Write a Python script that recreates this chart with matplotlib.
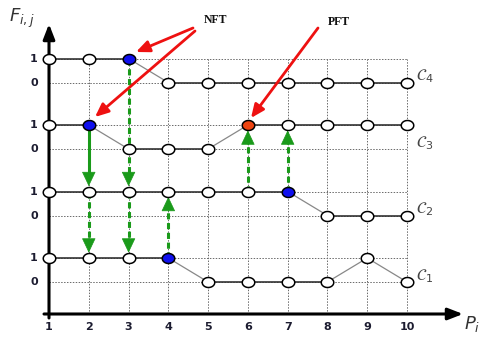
import matplotlib
matplotlib.use("Agg")
import matplotlib.pyplot as plt
import numpy as np
from matplotlib.path import Path

# ---- data ----
positions = [1, 2, 3, 4, 5, 6, 7, 8, 9, 10]
x_tick_labels = ["1", "2", "3", "4", "5", "6", "7", "8", "9", "10"]
chain_names = ["$\\mathcal{C}_1$", "$\\mathcal{C}_2$", "$\\mathcal{C}_3$", "$\\mathcal{C}_4$"]
c1 = [1, 1, 1, 1, 0, 0, 0, 0, 1, 0]
c2 = [1, 1, 1, 1, 1, 1, 1, 0, 0, 0]
c3 = [1, 1, 0, 0, 0, 1, 1, 1, 1, 1]
c4 = [1, 1, 1, 0, 0, 0, 0, 0, 0, 0]
chains = [c1, c2, c3, c4]
# highlighted nodes: (chain index, position)
nft_nodes = [(3, 3), (2, 2), (1, 7), (0, 4)]
pft_nodes = [(2, 6)]
# transfers: (position, from chain, to chain, solid?)
transfers = [(2, 2, 1, True), (2, 1, 0, False),
             (3, 3, 1, False), (3, 1, 0, False),
             (4, 0, 1, False), (6, 1, 2, False), (7, 1, 2, False)]

OFF = 2.77  # vertical offset between chains

def lvl(ci, v):
    return ci * OFF + v

W, H = 479, 340
fig = plt.figure(figsize=(W / 100, H / 100), dpi=100)
ax = fig.add_axes([0, 0, 1, 1])
sx = 39.78
sy = 24.0
ax.set_xlim(1 - 49 / sx, 1 + (W - 49) / sx)
ax.set_ylim((282 - H) / sy, 282 / sy)
ax.axis("off")

def px(xp, yp):
    return 1 + (xp - 49) / sx, (282 - yp) / sy

y_axis_bottom = px(0, 318)[1]
x_axis_y = px(0, 314)[1]
top = lvl(3, 1)

# grid
for ci in range(4):
    for v in (0, 1):
        ax.plot([1, 10], [lvl(ci, v)] * 2, ls=(0, (1.5, 1.5)), color="#6a6a6a", lw=0.7, zorder=1)
for p in positions[1:]:
    ax.plot([p, p], [x_axis_y, top], ls=(0, (1.5, 1.5)), color="#6a6a6a", lw=0.7, zorder=1)

# axes arrows
x0, _ = px(44, 0)
ax.annotate("", xy=px(463, 314), xytext=(x0, x_axis_y),
            arrowprops=dict(arrowstyle="-|>,head_length=0.9,head_width=0.35", lw=2.2, color="black",
                            shrinkA=0, shrinkB=0), zorder=3)
ax.annotate("", xy=px(49, 24), xytext=(1, y_axis_bottom),
            arrowprops=dict(arrowstyle="-|>,head_length=0.9,head_width=0.35", lw=2.2, color="black",
                            shrinkA=0, shrinkB=0), zorder=3)

# ellipse marker
t = np.linspace(0, 2 * np.pi, 60)
ell = Path(np.column_stack([np.cos(t), 0.8 * np.sin(t)]), closed=True)

# chain lines
for ci, vals in enumerate(chains):
    ys = [lvl(ci, v) for v in vals]
    for i in range(len(positions) - 1):
        if vals[i] == vals[i + 1]:
            ax.plot(positions[i:i + 2], ys[i:i + 2], color="#333333", lw=1.2, zorder=2)
        else:
            ax.plot(positions[i:i + 2], ys[i:i + 2], color="#888888", lw=0.9, zorder=2)

# green transfers
green = "#1a9a1a"
for p, a, b, solid in transfers:
    ya = lvl(a, 1)
    yb = lvl(b, 1)
    d = 1 if yb > ya else -1
    tip = yb - d * 0.22
    headlen = 0.6
    ax.plot([p, p], [ya, tip - d * headlen * 0.6], color=green, lw=2.2,
            ls="-" if solid else (0, (2.0, 1.2)), zorder=4)
    ax.annotate("", xy=(p, tip), xytext=(p, tip - d * headlen),
                arrowprops=dict(arrowstyle="-|>,head_length=0.95,head_width=0.45", lw=0.5,
                                color=green, shrinkA=0, shrinkB=0), zorder=4)

# nodes
for ci, vals in enumerate(chains):
    for p, v in zip(positions, vals):
        fc = "white"
        if (ci, p) in nft_nodes:
            fc = "#1010ee"
        if (ci, p) in pft_nodes:
            fc = "#ee4411"
        ax.plot(p, lvl(ci, v), marker=ell, ms=9, mfc=fc, mec="black", mew=1.1, zorder=5)

# tick labels
tc = "#1c1c30"
for p, lab in zip(positions, x_tick_labels):
    ax.text(p, px(0, 327)[1], lab, ha="center", va="center", fontsize=8, fontweight="bold", color=tc)
for ci in range(4):
    ax.text(px(34, 0)[0], lvl(ci, 1), "1", ha="center", va="center", fontsize=8, fontweight="bold", color=tc)
    ax.text(px(34, 0)[0], lvl(ci, 0), "0", ha="center", va="center", fontsize=8, fontweight="bold", color=tc)

# chain names
for ci, name in enumerate(chain_names):
    ax.text(px(416, 0)[0], lvl(ci, 0.5) - 0.25, name, ha="left", va="center", fontsize=11.5, color="#444444")

# axis labels
ax.text(*px(9, 18), "$F_{i,j}$", ha="left", va="center", fontsize=13, color="#333333")
ax.text(*px(464, 324), "$P_i$", ha="left", va="center", fontsize=13, color="#333333")

# annotations
red = "#ee1111"
ax.text(*px(215, 20), "NFT", ha="center", va="center", fontsize=8.5, fontweight="bold",
        family="Liberation Serif", color="#111111")
ax.text(*px(339, 22), "PFT", ha="center", va="center", fontsize=8.5, fontweight="bold",
        family="Liberation Serif", color="#111111")
for start, end in [((193, 28), (136, 52)), ((195, 31), (95, 117)), ((318, 28), (251, 118))]:
    ax.annotate("", xy=px(*end), xytext=px(*start),
                arrowprops=dict(arrowstyle="-|>,head_length=0.8,head_width=0.35", lw=2.0, color=red,
                                shrinkA=0, shrinkB=0), zorder=6)

fig.savefig("out.png", dpi=100)
